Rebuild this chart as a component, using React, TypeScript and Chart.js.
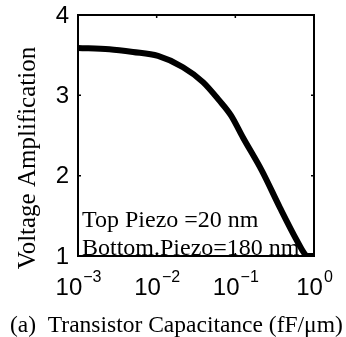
import React, { useEffect, useRef } from "react";
import { Chart, registerables } from "chart.js";

Chart.register(...registerables);

const capacitance = [0.001, 0.0025, 0.005, 0.0104, 0.0216, 0.0388, 0.062, 0.088, 0.125, 0.218, 0.37, 0.608, 0.77, 0.83, 1.0];
const amplification = [3.59, 3.575, 3.54, 3.49, 3.35, 3.165, 2.94, 2.75, 2.475, 2.06, 1.6, 1.19, 1.02, 1.0, 1.0];
const yTickValues = [1, 2, 3, 4];
const xTickExponents = [-3, -2, -1, 0];
const xTitle = "(a)  Transistor Capacitance (fF/\u03bcm)";
const yTitle = "Voltage Amplification";
const notes = ["Top Piezo =20 nm", "Bottom.Piezo=180 nm"];

const SANS = '"Liberation Sans", Arial, sans-serif';
const SERIF = '"Liberation Serif", "Times New Roman", serif';

export default function App() {
  const ref = useRef<HTMLCanvasElement>(null);

  useEffect(() => {
    if (!ref.current) return;

    const textPlugin = {
      id: "notes",
      beforeDatasetsDraw(chart: any) {
        const { ctx, chartArea: a } = chart;
        ctx.save();
        ctx.fillStyle = "#000";
        ctx.font = `24px ${SERIF}`;
        ctx.textAlign = "left";
        ctx.textBaseline = "alphabetic";
        ctx.fillText(notes[0], a.left + 4, a.bottom - 29);
        ctx.fillText(notes[1], a.left + 4, a.bottom - 1);
        ctx.restore();
      },
    };

    const framePlugin = {
      id: "frame",
      afterDatasetsDraw(chart: any) {
        const { ctx, chartArea: a, scales } = chart;
        const xs = scales.x;
        const ys = scales.y;
        ctx.save();
        ctx.strokeStyle = "#000";
        ctx.lineWidth = 2;
        ctx.strokeRect(a.left, a.top, a.right - a.left, a.bottom - a.top);
        ctx.lineWidth = 1.5;
        const len = 3;
        xTickExponents.forEach((e) => {
          const px = xs.getPixelForValue(Math.pow(10, e));
          ctx.beginPath();
          ctx.moveTo(px, a.top);
          ctx.lineTo(px, a.top + len);
          ctx.moveTo(px, a.bottom);
          ctx.lineTo(px, a.bottom - len);
          ctx.stroke();
        });
        yTickValues.forEach((v) => {
          const py = ys.getPixelForValue(v);
          ctx.beginPath();
          ctx.moveTo(a.left, py);
          ctx.lineTo(a.left + len, py);
          ctx.moveTo(a.right, py);
          ctx.lineTo(a.right - len, py);
          ctx.stroke();
        });

        // y tick labels
        ctx.fillStyle = "#000";
        ctx.font = `24px ${SANS}`;
        ctx.textAlign = "right";
        ctx.textBaseline = "middle";
        yTickValues.forEach((v) => {
          const py = ys.getPixelForValue(v);
          ctx.fillText(String(v), a.left - 9, py + 1);
        });

        // x tick labels with superscripts
        ctx.textAlign = "left";
        ctx.textBaseline = "alphabetic";
        xTickExponents.forEach((e) => {
          const px = xs.getPixelForValue(Math.pow(10, e));
          const sup = e < 0 ? "\u2212" + String(-e) : String(e);
          ctx.font = `24px ${SANS}`;
          const wb = ctx.measureText("10").width;
          ctx.font = `16px ${SANS}`;
          const ws = ctx.measureText(sup).width;
          const start = px - (wb + ws) / 2;
          ctx.font = `24px ${SANS}`;
          ctx.fillText("10", start, a.bottom + 39);
          ctx.font = `16px ${SANS}`;
          ctx.fillText(sup, start + wb + 1, a.bottom + 26);
        });

        // x title
        ctx.font = `23.5px ${SERIF}`;
        ctx.textAlign = "left";
        ctx.fillText(xTitle, 10, a.bottom + 76);

        // y title
        ctx.save();
        ctx.translate(35, 158);
        ctx.rotate(-Math.PI / 2);
        ctx.font = `25px ${SERIF}`;
        ctx.textAlign = "center";
        ctx.fillText(yTitle, 0, 0);
        ctx.restore();

        ctx.restore();
      },
    };

    const chart = new Chart(ref.current, {
      type: "scatter",
      data: {
        datasets: [
          {
            data: capacitance.map((c, i) => ({ x: c, y: amplification[i] })),
            showLine: true,
            borderColor: "#000",
            borderWidth: 6,
            pointRadius: 0,
            cubicInterpolationMode: "monotone",
            borderCapStyle: "butt",
          } as any,
        ],
      },
      options: {
        animation: false,
        responsive: true,
        maintainAspectRatio: false,
        layout: { padding: { top: 15, right: 32, left: 0, bottom: 0 } },
        plugins: { legend: { display: false }, tooltip: { enabled: false } },
        scales: {
          x: {
            type: "logarithmic",
            min: 0.001,
            max: 1,
            ticks: { display: false },
            grid: { display: false, drawTicks: false },
            border: { display: false },
            afterFit: (s: any) => {
              s.height = 81;
            },
          },
          y: {
            type: "linear",
            min: 1,
            max: 4,
            ticks: { display: false, stepSize: 1 },
            grid: { display: false, drawTicks: false },
            border: { display: false },
            afterFit: (s: any) => {
              s.width = 78;
            },
          },
        },
      },
      plugins: [textPlugin, framePlugin],
    });

    return () => chart.destroy();
  }, []);

  return (
    <div style={{ position: "fixed", left: 0, top: 0, width: 346, height: 337, background: "#fff" }}>
      <canvas ref={ref} />
    </div>
  );
}
